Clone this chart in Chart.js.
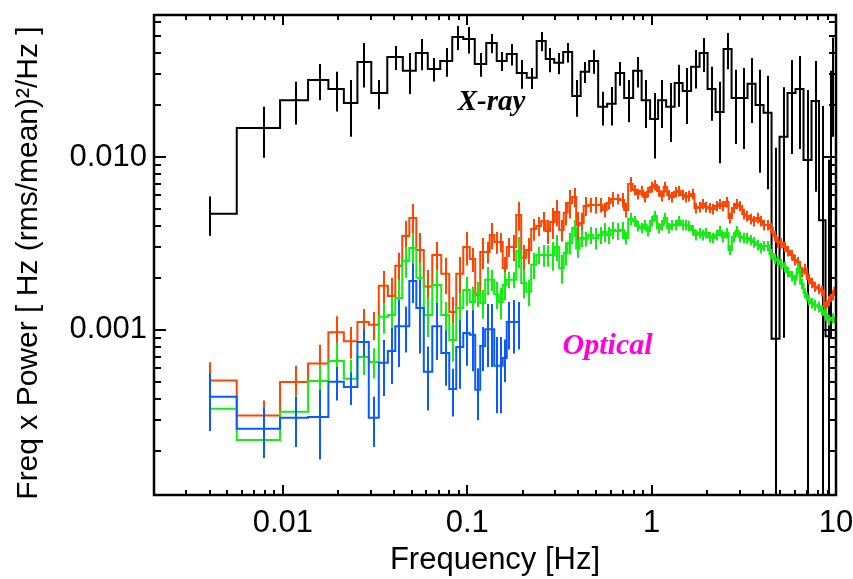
<!DOCTYPE html>
<html lang="en">
<head>
<meta charset="UTF-8" />
<title>X-ray and optical power spectra</title>
<script src="https://cdn.jsdelivr.net/npm/chart.js@4.4.0/dist/chart.umd.min.js"></script>
<style>
  html, body { margin: 0; padding: 0; background: #fff; }
  canvas { display: block; }
</style>
</head>
<body>
<canvas id="psd" width="853" height="579"></canvas>
<script>
// axis ranges and labelled ticks
const X_MIN = 0.002, X_MAX = 10;
const Y_MIN = 0.000111, Y_MAX = 0.0662;
const xTickValues = [0.01, 0.1, 1, 10];
const xTickLabels = ['0.01', '0.1', '1', '10'];
const yTickValues = [0.001, 0.01];
const yTickLabels = ['0.001', '0.010'];
const Y_TITLE = 'Freq x Power [ Hz (rms/mean)\u00b2/Hz ]';

// X-ray: frequency (Hz), freq x power, 1-sigma error
const xrayFreq = [
  0.0040, 0.0079, 0.0118, 0.0159, 0.0196, 0.0234, 0.0275, 0.0331, 0.0410, 0.0488,
  0.0567, 0.0658, 0.0774, 0.0888, 0.1019, 0.1184, 0.1358, 0.1538, 0.1742, 0.1975,
  0.2237, 0.2534, 0.2801, 0.3133, 0.3505, 0.3922, 0.4335, 0.4850, 0.5425, 0.6070,
  0.6709, 0.7506, 0.8398, 0.9279, 1.038, 1.133, 1.268, 1.401, 1.548, 1.732,
  1.913, 2.114, 2.337, 2.582, 2.853, 3.152, 3.483, 3.849, 4.254, 4.700,
  5.193, 5.739, 6.341, 7.007, 7.743, 8.451, 9.107, 9.69
];
const xrayPower = [
  0.0047, 0.0147, 0.0213, 0.0279, 0.0247, 0.0205, 0.0354, 0.0234, 0.0378, 0.0315,
  0.0399, 0.0323, 0.0359, 0.0494, 0.0481, 0.0345, 0.0456, 0.0359, 0.0394, 0.0306,
  0.0287, 0.0468, 0.0368, 0.0350, 0.0404, 0.0225, 0.0311, 0.0359, 0.0195, 0.0203,
  0.0306, 0.0219, 0.0315, 0.0213, 0.0166, 0.0213, 0.0195, 0.0268, 0.0241, 0.0332,
  0.0399, 0.0247, 0.0182, 0.0421, 0.0219, 0.0219, 0.0265, 0.0200, 0.0180, 0.00089,
  0.0131, 0.0234, 0.0247, 0.0096, 0.0211, 0.0043, 0.00092, 0.0311
];
const xrayErr = [
  0.0012, 0.0048, 0.0059, 0.0066, 0.0064, 0.0074, 0.0102, 0.0045, 0.0060, 0.0084,
  0.0082, 0.0050, 0.0068, 0.0078, 0.0084, 0.0054, 0.0058, 0.0045, 0.0056, 0.0058,
  0.0040, 0.0060, 0.0059, 0.0049, 0.0052, 0.0054, 0.0043, 0.0056, 0.0043, 0.0051,
  0.0048, 0.0060, 0.0063, 0.0066, 0.0068, 0.0066, 0.0073, 0.0073, 0.0086, 0.0083,
  0.0089, 0.0085, 0.0090, 0.0100, 0.0100, 0.0108, 0.0108, 0.0119, 0.0115, 0.0104,
  0.0122, 0.0130, 0.0136, 0.0148, 0.0148, 0.0154, 0.0087, 0.0180
];

// Optical: shared frequency grid for the three bands
const optFreq = [
  0.0040, 0.0079, 0.0118, 0.0159, 0.0196, 0.0234, 0.0275, 0.0311, 0.0353, 0.0390,
  0.0425, 0.0464, 0.0507, 0.0553, 0.0611, 0.0683, 0.0765, 0.0834, 0.0911, 0.0994,
  0.1071, 0.1140, 0.1213, 0.1291, 0.1358, 0.1445, 0.1519, 0.1597, 0.1679, 0.1787,
  0.1901, 0.2024, 0.2154, 0.2293, 0.2441, 0.2598, 0.2731, 0.2907, 0.3056, 0.3253,
  0.3419, 0.3593, 0.3826, 0.3971, 0.4174, 0.4388, 0.4671, 0.4972, 0.5292, 0.5564,
  0.5847, 0.6146, 0.6542, 0.6963, 0.7229, 0.7695,
  0.810, 0.845, 0.882, 0.921, 0.961, 1.002, 1.046, 1.092, 1.139, 1.189,
  1.240, 1.294, 1.351, 1.409, 1.471, 1.535, 1.601, 1.671, 1.744, 1.820,
  1.899, 1.981, 2.068, 2.158, 2.251, 2.349, 2.451, 2.558, 2.669, 2.785,
  2.907, 3.033, 3.165, 3.303, 3.446, 3.596, 3.753, 3.916, 4.086, 4.264,
  4.449, 4.643, 4.845, 5.056, 5.276, 5.505, 5.745, 5.995, 6.255, 6.527,
  6.811, 7.108, 7.417, 7.740, 8.076, 8.428, 8.794, 9.177, 9.576, 9.993
];
const redPower = [
  0.00051, 0.00032, 0.00050, 0.00064, 0.00097, 0.00086, 0.00111, 0.00107, 0.00180, 0.00157,
  0.00235, 0.00349, 0.00444, 0.00290, 0.00178, 0.00271, 0.00211, 0.00127, 0.00211, 0.00302,
  0.00257, 0.00159, 0.00282, 0.00282, 0.00354, 0.00322, 0.00322, 0.00228, 0.00302, 0.00302,
  0.00462, 0.00261, 0.00290, 0.00383, 0.00399, 0.00426, 0.00373, 0.00421, 0.00481, 0.00378,
  0.00475, 0.00542, 0.00587, 0.00404, 0.00415, 0.00521, 0.00528, 0.00528, 0.00528, 0.00494,
  0.00542, 0.00571, 0.00571, 0.00564, 0.00494, 0.00698,
  0.00644, 0.00611, 0.00636, 0.00587, 0.00627, 0.00671, 0.00689, 0.00636, 0.00595, 0.00671,
  0.00603, 0.00587, 0.00627, 0.00636, 0.00603, 0.00587, 0.00595, 0.00611, 0.00507, 0.00514,
  0.00535, 0.00514, 0.00507, 0.00500, 0.00521, 0.00535, 0.00521, 0.00549, 0.00444, 0.00507,
  0.00535, 0.00521, 0.00468, 0.00456, 0.00438, 0.00426, 0.00444, 0.00426, 0.00404, 0.00404,
  0.00388, 0.00349, 0.00322, 0.00318, 0.00302, 0.00286, 0.00271, 0.00254, 0.00247, 0.00216,
  0.00225, 0.00197, 0.00187, 0.00178, 0.00173, 0.00168, 0.00136, 0.00147, 0.00159, 0.00175
];
const redErr = [
  0.00014, 0.00007, 0.00012, 0.00018, 0.00023, 0.00018, 0.00021, 0.00020, 0.00039, 0.00043,
  0.00044, 0.00077, 0.00091, 0.00073, 0.00044, 0.00051, 0.00050, 0.00028, 0.00053, 0.00066,
  0.00041, 0.00023, 0.00058, 0.00040, 0.00061, 0.00046, 0.00041, 0.00036, 0.00038, 0.00052,
  0.00087, 0.00049, 0.00050, 0.00055, 0.00051, 0.00055, 0.00059, 0.00086, 0.00083, 0.00054,
  0.00074, 0.00102, 0.00075, 0.00077, 0.00060, 0.00066, 0.00051, 0.00059, 0.00051, 0.00048,
  0.00045, 0.00056, 0.00040, 0.00055, 0.00048, 0.00068,
  0.00045, 0.00043, 0.00045, 0.00041, 0.00044, 0.00047, 0.00048, 0.00045, 0.00042, 0.00047,
  0.00042, 0.00041, 0.00044, 0.00045, 0.00042, 0.00041, 0.00042, 0.00043, 0.00036, 0.00036,
  0.00037, 0.00036, 0.00035, 0.00035, 0.00036, 0.00037, 0.00036, 0.00038, 0.00031, 0.00035,
  0.00037, 0.00036, 0.00033, 0.00032, 0.00031, 0.00030, 0.00031, 0.00030, 0.00028, 0.00028,
  0.00027, 0.00024, 0.00023, 0.00022, 0.00021, 0.00020, 0.00019, 0.00018, 0.00017, 0.00015,
  0.00016, 0.00014, 0.00013, 0.00012, 0.00012, 0.00012, 0.00010, 0.00010, 0.00011, 0.00012
];
const greenPower = [
  0.00035, 0.000231, 0.000336, 0.000507, 0.000662, 0.000521, 0.000698, 0.000653, 0.00119, 0.00122,
  0.00153, 0.00251, 0.00298, 0.00200, 0.00122, 0.00182, 0.00122, 0.000875, 0.00134, 0.00170,
  0.00145, 0.00163, 0.00143, 0.00195, 0.00195, 0.00161, 0.00145, 0.00182, 0.00195, 0.00195,
  0.00286, 0.00187, 0.00166, 0.00238, 0.00271, 0.00271, 0.00271, 0.00271, 0.00302, 0.00228,
  0.00279, 0.00318, 0.00388, 0.00296, 0.00340, 0.00336, 0.00354, 0.00340, 0.00354, 0.00368,
  0.00354, 0.00378, 0.00373, 0.00378, 0.00340, 0.00438,
  0.00426, 0.00399, 0.00388, 0.00404, 0.00373, 0.00426, 0.00456, 0.00388, 0.00404, 0.00444,
  0.00388, 0.00404, 0.00404, 0.00426, 0.00404, 0.00404, 0.00399, 0.00378, 0.00354, 0.00363,
  0.00354, 0.00363, 0.00344, 0.00340, 0.00354, 0.00373, 0.00344, 0.00363, 0.00290, 0.00344,
  0.00373, 0.00344, 0.00340, 0.00340, 0.00331, 0.00322, 0.00310, 0.00298, 0.00306, 0.00306,
  0.00275, 0.00257, 0.00251, 0.00241, 0.00231, 0.00216, 0.00205, 0.00195, 0.00225, 0.00185,
  0.00163, 0.00149, 0.00143, 0.00139, 0.00136, 0.00130, 0.00122, 0.00114, 0.00117, 0.00111
];
const greenErr = [
  0.00007, 0.00005, 0.000085, 0.00012, 0.00018, 0.00015, 0.00015, 0.00013, 0.00024, 0.00033,
  0.00042, 0.00051, 0.00065, 0.00044, 0.00031, 0.00040, 0.00023, 0.00022, 0.00029, 0.00032,
  0.00033, 0.00027, 0.00027, 0.00036, 0.00027, 0.00029, 0.00030, 0.00034, 0.00021, 0.00021,
  0.00058, 0.00035, 0.00029, 0.00041, 0.00031, 0.00039, 0.00039, 0.00051, 0.00052, 0.00043,
  0.00043, 0.00045, 0.00044, 0.00035, 0.00038, 0.00032, 0.00040, 0.00048, 0.00040, 0.00047,
  0.00040, 0.00043, 0.00042, 0.00043, 0.00028, 0.00037,
  0.00030, 0.00028, 0.00027, 0.00028, 0.00026, 0.00030, 0.00032, 0.00027, 0.00028, 0.00031,
  0.00027, 0.00028, 0.00028, 0.00030, 0.00028, 0.00028, 0.00028, 0.00026, 0.00025, 0.00025,
  0.00025, 0.00025, 0.00024, 0.00024, 0.00025, 0.00026, 0.00024, 0.00025, 0.00020, 0.00024,
  0.00026, 0.00024, 0.00024, 0.00024, 0.00023, 0.00023, 0.00022, 0.00021, 0.00021, 0.00021,
  0.00019, 0.00018, 0.00018, 0.00017, 0.00016, 0.00015, 0.00014, 0.00014, 0.00016, 0.00013,
  0.00011, 0.00010, 0.00010, 0.00010, 0.00010, 0.00009, 0.00009, 0.00008, 0.00008, 0.00008
];
// blue band stops at ~0.19 Hz (first 31 optical bins)
const bluePower = [
  0.00041, 0.000268, 0.00031, 0.000314, 0.000501, 0.000468, 0.000852, 0.00031, 0.000645, 0.000756,
  0.00105, 0.00105, 0.00192, 0.00134, 0.000572, 0.00105, 0.000736, 0.000456, 0.000797, 0.000961,
  0.000936, 0.00045, 0.000808, 0.00101, 0.00101, 0.00062, 0.00062, 0.000689, 0.00111, 0.00111, 0.00111
];
const blueErr = [
  0.00015, 0.000086, 0.00010, 0.000136, 0.00011, 0.00010, 0.00015, 0.00010, 0.00023, 0.00027,
  0.00044, 0.00031, 0.00049, 0.00061, 0.00023, 0.00038, 0.00026, 0.00014, 0.00034, 0.00034,
  0.00036, 0.00015, 0.00023, 0.00040, 0.00040, 0.00029, 0.00029, 0.00019, 0.00034, 0.00038, 0.00034
];

function toPoints(freq, power) {
  return power.map((p, i) => ({ x: freq[i], y: p }));
}

// minor + major tick marks for a log range
function decadeTicks(min, max) {
  const out = [];
  for (let e = Math.floor(Math.log10(min)); e <= Math.ceil(Math.log10(max)); e++) {
    for (let k = 1; k <= 9; k++) {
      const v = k * Math.pow(10, e);
      if (v > min * 1.0001 && v < max * 0.9999) out.push({ v, major: k === 1 });
    }
  }
  return out;
}

// vertical error bars, drawn right after each dataset so layering follows the lines
const errorBars = {
  id: 'errorBars',
  afterDatasetDraw(chart, args) {
    const ds = chart.data.datasets[args.index];
    if (!ds.errors) return;
    const { ctx, chartArea: a, scales: { x, y } } = chart;
    ctx.save();
    ctx.beginPath();
    ctx.rect(a.left, a.top, a.right - a.left, a.bottom - a.top);
    ctx.clip();
    ctx.strokeStyle = ds.borderColor;
    ctx.lineWidth = 2;
    ctx.beginPath();
    ds.data.forEach((pt, i) => {
      const e = ds.errors[i];
      const px = Math.round(x.getPixelForValue(pt.x));
      const hi = y.getPixelForValue(pt.y + e);
      const lo = pt.y - e > 0 ? y.getPixelForValue(pt.y - e) : a.bottom + 5;
      ctx.moveTo(px, hi);
      ctx.lineTo(px, lo);
    });
    ctx.stroke();
    ctx.restore();
  }
};

// box frame with inward ticks on all four sides, the y title and the two band labels
const frame = {
  id: 'frame',
  afterDraw(chart) {
    const { ctx, chartArea: a, scales: { x, y } } = chart;
    ctx.save();
    ctx.strokeStyle = '#000';
    ctx.lineWidth = 2;
    ctx.beginPath();
    decadeTicks(X_MIN, X_MAX).forEach(t => {
      const px = Math.round(x.getPixelForValue(t.v));
      const len = t.major ? 10 : 5;
      ctx.moveTo(px, a.bottom); ctx.lineTo(px, a.bottom - len);
      ctx.moveTo(px, a.top); ctx.lineTo(px, a.top + len);
    });
    decadeTicks(Y_MIN, Y_MAX).forEach(t => {
      const py = Math.round(y.getPixelForValue(t.v));
      const len = t.major ? 12 : 7;
      ctx.moveTo(a.left, py); ctx.lineTo(a.left + len, py);
      ctx.moveTo(a.right, py); ctx.lineTo(a.right - len, py);
    });
    ctx.stroke();
    ctx.lineWidth = 2.5;
    ctx.strokeRect(a.left, a.top, a.right - a.left, a.bottom - a.top);

    // rotated y-axis title, a little below the plot centre as in the original
    ctx.save();
    ctx.translate(37, 263);
    ctx.rotate(-Math.PI / 2);
    ctx.font = '30px "Liberation Sans"';
    ctx.fillStyle = '#000';
    ctx.textAlign = 'center';
    ctx.textBaseline = 'alphabetic';
    ctx.fillText(Y_TITLE, 0, 0);
    ctx.restore();

    ctx.font = 'italic bold 29px "Liberation Serif"';
    ctx.textAlign = 'left';
    ctx.textBaseline = 'alphabetic';
    ctx.fillStyle = '#000';
    ctx.fillText('X-ray', x.getPixelForValue(0.0888), y.getPixelForValue(0.0187));
    ctx.font = 'italic bold 30px "Liberation Serif"';
    ctx.fillStyle = '#ff00dd';
    ctx.fillText('Optical', x.getPixelForValue(0.329), y.getPixelForValue(0.000723));
    ctx.restore();
  }
};

const tickFont = { family: 'Liberation Sans', size: 31 };
const lineStyle = { borderWidth: 2, stepped: 'middle', pointRadius: 0, fill: false, tension: 0 };

new Chart(document.getElementById('psd'), {
  type: 'line',
  data: {
    datasets: [
      { ...lineStyle, label: 'X-ray', data: toPoints(xrayFreq, xrayPower), errors: xrayErr, borderColor: '#000000', order: 3 },
      { ...lineStyle, label: 'Optical red', data: toPoints(optFreq, redPower), errors: redErr, borderColor: '#ff4500', order: 2 },
      { ...lineStyle, label: 'Optical green', data: toPoints(optFreq, greenPower), errors: greenErr, borderColor: '#12ee12', order: 1 },
      { ...lineStyle, label: 'Optical blue', data: toPoints(optFreq, bluePower), errors: blueErr, borderColor: '#0a5aff', order: 0 },
    ],
  },
  options: {
    responsive: false,
    animation: false,
    events: [],
    layout: { padding: { top: 15, right: 17, bottom: 0, left: 0 } },
    plugins: { legend: { display: false }, tooltip: { enabled: false } },
    scales: {
      x: {
        type: 'logarithmic', min: X_MIN, max: X_MAX,
        grid: { display: false, drawTicks: false },
        border: { display: false },
        afterBuildTicks: s => { s.ticks = xTickValues.map(v => ({ value: v })); },
        afterFit: s => { s.height = 84; s.paddingLeft = 0; s.paddingRight = 0; },
        ticks: {
          autoSkip: false, maxRotation: 0, padding: 10, color: '#000', font: tickFont,
          callback: v => xTickLabels[xTickValues.indexOf(v)],
        },
        title: { display: true, text: 'Frequency [Hz]', color: '#000', font: tickFont, padding: { top: 0, bottom: 0 } },
      },
      y: {
        type: 'logarithmic', min: Y_MIN, max: Y_MAX,
        grid: { display: false, drawTicks: false },
        border: { display: false },
        afterBuildTicks: s => { s.ticks = yTickValues.map(v => ({ value: v })); },
        afterFit: s => { s.width = 154; s.paddingTop = 0; s.paddingBottom = 0; },
        ticks: {
          autoSkip: false, padding: 7, color: '#000', font: tickFont,
          callback: v => yTickLabels[yTickValues.indexOf(v)],
        },
        title: { display: false },
      },
    },
  },
  plugins: [errorBars, frame],
});
</script>
</body>
</html>
